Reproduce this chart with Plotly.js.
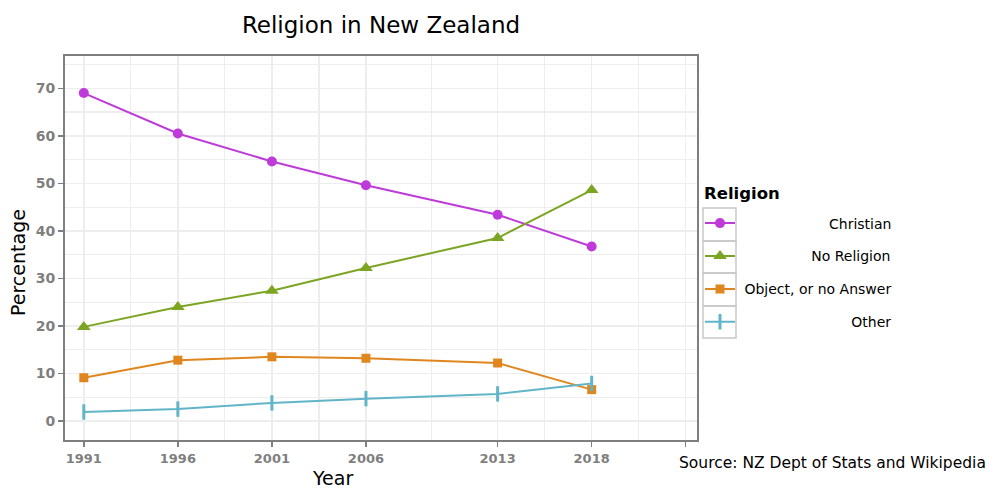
<!DOCTYPE html>
<html>
<head>
<meta charset="utf-8">
<script src="https://cdn.plot.ly/plotly-3.0.1.min.js"></script>
<style>html,body{margin:0;padding:0;background:#fff;}#chart{width:993px;height:489px;}</style>
</head>
<body>
<div id="chart"></div>
<script>
// ---- data ----
const years = [1991, 1996, 2001, 2006, 2013, 2018];
const christian = [69.0, 60.5, 54.6, 49.6, 43.4, 36.7];
const noReligion = [19.8, 24.0, 27.4, 32.2, 38.5, 48.6];
const objectNoAnswer = [9.1, 12.8, 13.5, 13.2, 12.2, 6.6];
const other = [1.9, 2.5, 3.8, 4.7, 5.7, 7.9];
const seriesNames = ["Christian", "No Religion", "Object, or no Answer", "Other"];
const xTickVals = [1991, 1996, 2001, 2006, 2013, 2018, 2023];
const xTickText = ["1991", "1996", "2001", "2006", "2013", "2018", ""];
const xMinorVals = [1993.5, 1998.5, 2003.5, 2009.5, 2015.5, 2020.5];
const yTickVals = [0, 10, 20, 30, 40, 50, 60, 70];
const yMinorVals = [5, 15, 25, 35, 45, 55, 65, 75];

// right-align legend labels by padding with non-breaking spaces
const LEG_FONT = 14;
const cv = document.createElement('canvas').getContext('2d');
cv.font = LEG_FONT + 'px "DejaVu Sans"';
const targetW = cv.measureText(seriesNames[2]).width;
const spW = cv.measureText('\u00a0').width;
function pad(s){ const n = Math.max(0, Math.round((targetW - cv.measureText(s).width)/spW)); return '\u00a0'.repeat(n + 1) + s; }

const colors = ['#BE3BD9', '#7CA524', '#E0861E', '#61B5C8'];
const symbols = ['circle', 'triangle-up', 'square', 'line-ns'];
const sizes = [10, 12, 9, 11];
const ys = [christian, noReligion, objectNoAnswer, other];

const traces = ys.map((y, i) => ({
  type: 'scatter', mode: 'lines+markers', x: years, y: y,
  name: pad(seriesNames[i]), legendgroup: 'g' + i,
  line: {color: colors[i], width: 2},
  marker: {symbol: symbols[i], size: sizes[i], color: colors[i],
           line: {color: colors[i], width: i === 3 ? 3 : 0}}
}));

const L = 65, R = 697, T = 56, B = 440;
const pw = R - L, ph = B - T;
const px = v => (v - L) / pw;
const py = v => (B - v) / ph;
const shapes = [];
const boxTops = [208, 241, 273, 306, 338];
for (let i = 0; i < 4; i++) {
  shapes.push({type: 'rect', xref: 'paper', yref: 'paper',
    x0: px(703), x1: px(736), y0: py(boxTops[i+1]), y1: py(boxTops[i]),
    line: {color: '#c8c8c8', width: 1.5}, fillcolor: 'rgba(0,0,0,0)'});
}

const tickFont = (s) => ({size: s, color: '#7f7f7f', family: '"DejaVu Sans", sans-serif', weight: 'bold'});

const layout = {
  width: 993, height: 489,
  margin: {l: L, r: 993 - R, t: T, b: 489 - B},
  paper_bgcolor: '#fff', plot_bgcolor: '#fff',
  font: {family: '"DejaVu Sans", sans-serif', color: '#000'},
  title: {text: 'Religion in New Zealand', x: 0.5, xref: 'paper', xanchor: 'center',
          y: 1 - 25/489, yanchor: 'middle', font: {size: 23, color: '#000'}},
  xaxis: {
    range: [1990.0, 2023.6], tickmode: 'array', tickvals: xTickVals, ticktext: xTickText,
    showgrid: true, gridcolor: '#EDEDED', gridwidth: 1.5,
    minor: {tickmode: 'array', tickvals: xMinorVals, showgrid: true, gridcolor: '#EDEDED', gridwidth: 1.2, ticks: ''},
    ticks: 'outside', ticklen: 5, tickwidth: 1.5, tickcolor: '#7f7f7f',
    tickfont: tickFont(13),
    showline: true, linecolor: '#7f7f7f', linewidth: 2, mirror: true, zeroline: false
  },
  yaxis: {
    range: [-4, 76.8], tickmode: 'array', tickvals: yTickVals,
    showgrid: true, gridcolor: '#EDEDED', gridwidth: 1.5,
    minor: {tickmode: 'array', tickvals: yMinorVals, showgrid: true, gridcolor: '#EDEDED', gridwidth: 1.2, ticks: ''},
    ticks: 'outside', ticklen: 5, tickwidth: 1.5, tickcolor: '#7f7f7f',
    tickfont: tickFont(14),
    showline: true, linecolor: '#7f7f7f', linewidth: 2, mirror: true, zeroline: false
  },
  legend: {
    x: px(700), xanchor: 'left', y: py(207.5), yanchor: 'top',
    font: {size: LEG_FONT, color: '#000'}, tracegroupgap: 11.7,
    bgcolor: 'rgba(0,0,0,0)', borderwidth: 0
  },
  shapes: shapes,
  annotations: [
    {text: '<b>Religion</b>', xref: 'paper', yref: 'paper',
     x: px(702), xanchor: 'left', y: py(193), yanchor: 'middle', showarrow: false,
     font: {size: 16.5, color: '#000'}},
    {text: 'Source: NZ Dept of Stats and Wikipedia', xref: 'paper', yref: 'paper',
     x: px(988), xanchor: 'right', y: py(463), yanchor: 'middle', showarrow: false,
     font: {size: 15.5, color: '#000'}},
    {text: 'Year', xref: 'paper', yref: 'paper', x: px(332), xanchor: 'center',
     y: py(478), yanchor: 'middle', showarrow: false, font: {size: 19, color: '#000'}},
    {text: 'Percentage', xref: 'paper', yref: 'paper', x: px(18), xanchor: 'center',
     y: py(263), yanchor: 'middle', showarrow: false, textangle: -90, font: {size: 19, color: '#000'}}
  ]
};

Plotly.newPlot('chart', traces, layout, {displayModeBar: false, staticPlot: true});
</script>
</body>
</html>
